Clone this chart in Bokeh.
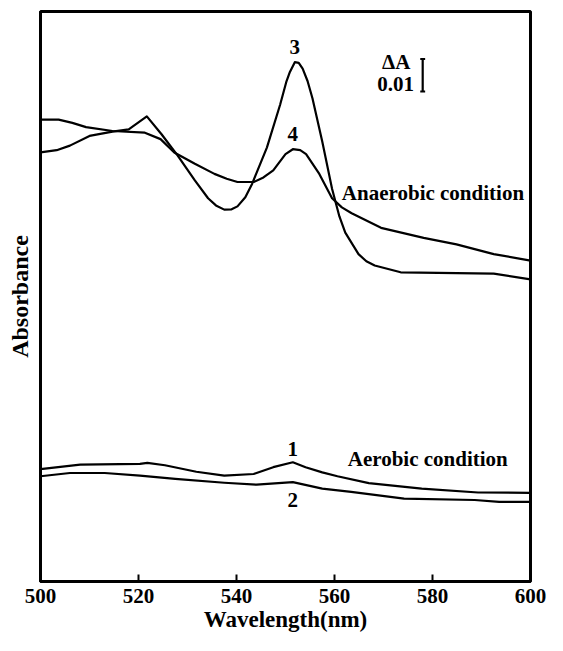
from bokeh.plotting import figure
from bokeh.models import FixedTicker, Range1d
from bokeh.embed import file_html
from bokeh.resources import INLINE
from bokeh.core.properties import value

# Curve 3 (anaerobic, sharp peak at 552 nm)
wl3 = [500, 503.3, 506, 510, 514.7, 518, 521.7, 524.7, 528, 531.5, 534.2, 535.8, 537.5, 539,
       540.2, 541.8, 543.2, 546.2, 548.9, 550.2, 550.9, 551.9, 552.7, 553.5, 554.5, 555.5, 557.5,
       559.5, 561, 562.2, 564.9, 566.5, 568.2, 573.5, 592.5, 600]
a3 = [0.1321, 0.1328, 0.1342, 0.1372, 0.1385, 0.1392, 0.1432, 0.1377, 0.1311, 0.1235, 0.1180,
      0.1158, 0.1145, 0.1146, 0.1155, 0.1183, 0.1225, 0.1336, 0.1468, 0.1540, 0.1569, 0.1599,
      0.1597, 0.1579, 0.1541, 0.1488, 0.1355, 0.1209, 0.1124, 0.1074, 0.1008, 0.0986, 0.0973,
      0.0952, 0.0948, 0.0930]

# Curve 4 (anaerobic, broad)
wl4 = [500, 503.7, 506.5, 509.3, 514.7, 521.3, 524.5, 527.3, 531.5, 535.5, 538, 540.2, 543.5,
       545.5, 547.5, 550, 551.5, 553, 554.2, 556.9, 559.5, 561.5, 563.5, 569.5, 578.2, 584.9,
       592.5, 600]
a4 = [0.1422, 0.1422, 0.1412, 0.1399, 0.1387, 0.1382, 0.1362, 0.1321, 0.1286, 0.1255, 0.1240,
      0.1230, 0.1230, 0.1244, 0.1266, 0.1316, 0.1331, 0.1328, 0.1316, 0.1255, 0.1180, 0.1152,
      0.1134, 0.1089, 0.1058, 0.1038, 0.1008, 0.0988]

# Curve 1 (aerobic)
wl1 = [500, 508.1, 520.3, 521.8, 525.4, 531.8, 537.5, 543.5, 547.5, 551.5, 554.1, 557.5, 560.6,
       567, 577.8, 589.3, 600]
a1 = [0.0346, 0.0360, 0.0362, 0.0365, 0.0358, 0.0338, 0.0326, 0.0331, 0.0352, 0.0367, 0.0352,
      0.0336, 0.0324, 0.0303, 0.0286, 0.0274, 0.0273]

# Curve 2 (aerobic)
wl2 = [500, 506, 513.1, 520.3, 527.5, 537.5, 544.1, 551.5, 557.5, 563.4, 574.2, 588.6, 593.6, 600]
a2 = [0.0324, 0.0334, 0.0334, 0.0326, 0.0316, 0.0304, 0.0298, 0.0306, 0.0286, 0.0276, 0.0255,
      0.0251, 0.0245, 0.0245]

x_ticks = [500, 520, 540, 560, 580, 600]
scale_delta = 0.01

FONT = "Liberation Serif"

p = figure(width=547, height=635, output_backend="svg", toolbar_location=None,
           x_range=Range1d(500, 600), y_range=Range1d(0, 0.1755),
           min_border_left=40, min_border_right=17, min_border_top=11, min_border_bottom=54)
p.grid.visible = False
p.outline_line_color = "black"
p.outline_line_width = 3
p.background_fill_color = "white"
p.border_fill_color = "white"

xa = p.xaxis[0]
xa.ticker = FixedTicker(ticks=x_ticks)
xa.major_tick_in = 7
xa.major_tick_out = 0
xa.minor_tick_line_color = None
xa.axis_line_width = 3
xa.major_tick_line_width = 2
xa.major_label_text_font = FONT
xa.major_label_text_font_style = "bold"
xa.major_label_text_font_size = "21px"
xa.major_label_text_color = "black"
xa.major_label_standoff = 7
xa.axis_label = "Wavelength(nm)"
xa.axis_label_text_font = FONT
xa.axis_label_text_font_style = "bold"
xa.axis_label_text_font_size = "23px"
xa.axis_label_text_color = "black"
xa.axis_label_standoff = 1

ya = p.yaxis[0]
ya.ticker = FixedTicker(ticks=[])
ya.minor_tick_line_color = None
ya.major_tick_line_color = None
ya.major_tick_out = 0
ya.major_tick_in = 0
ya.major_label_standoff = 0
ya.axis_line_width = 3
ya.axis_label = "Absorbance"
ya.axis_label_text_font = FONT
ya.axis_label_text_font_style = "bold"
ya.axis_label_text_font_size = "24px"
ya.axis_label_text_color = "black"
ya.axis_label_standoff = 8

for wl, a in [(wl3, a3), (wl4, a4), (wl1, a1), (wl2, a2)]:
    p.line(wl, a, line_color="black", line_width=2.2, line_join="round")

def lab(x, y, t, align="center"):
    p.text(x=[x], y=[y], text=[t], text_font=value(FONT), text_font_style="bold",
           text_font_size="21px", text_align=align, text_baseline="middle", text_color="black")

lab(551.9, 0.1645, "3")
lab(551.5, 0.1377, "4")
lab(551.5, 0.0407, "1")
lab(551.5, 0.0251, "2")
lab(561.5, 0.1195, "Anaerobic condition", "left")
lab(562.7, 0.0377, "Aerobic condition", "left")
lab(575.5, 0.1599, "ΔA", "right")
lab(576.2, 0.1533, "0.01", "right")

# scale bar
bx = 578.0
ytop = 0.1609
p.segment(x0=[bx], y0=[ytop - scale_delta], x1=[bx], y1=[ytop], line_color="black", line_width=2.2)
p.segment(x0=[bx - 0.5, bx - 0.5], y0=[ytop, ytop - scale_delta], x1=[bx + 0.5, bx + 0.5],
          y1=[ytop, ytop - scale_delta], line_color="black", line_width=2)

open("out.html", "w").write(file_html(p, INLINE))
